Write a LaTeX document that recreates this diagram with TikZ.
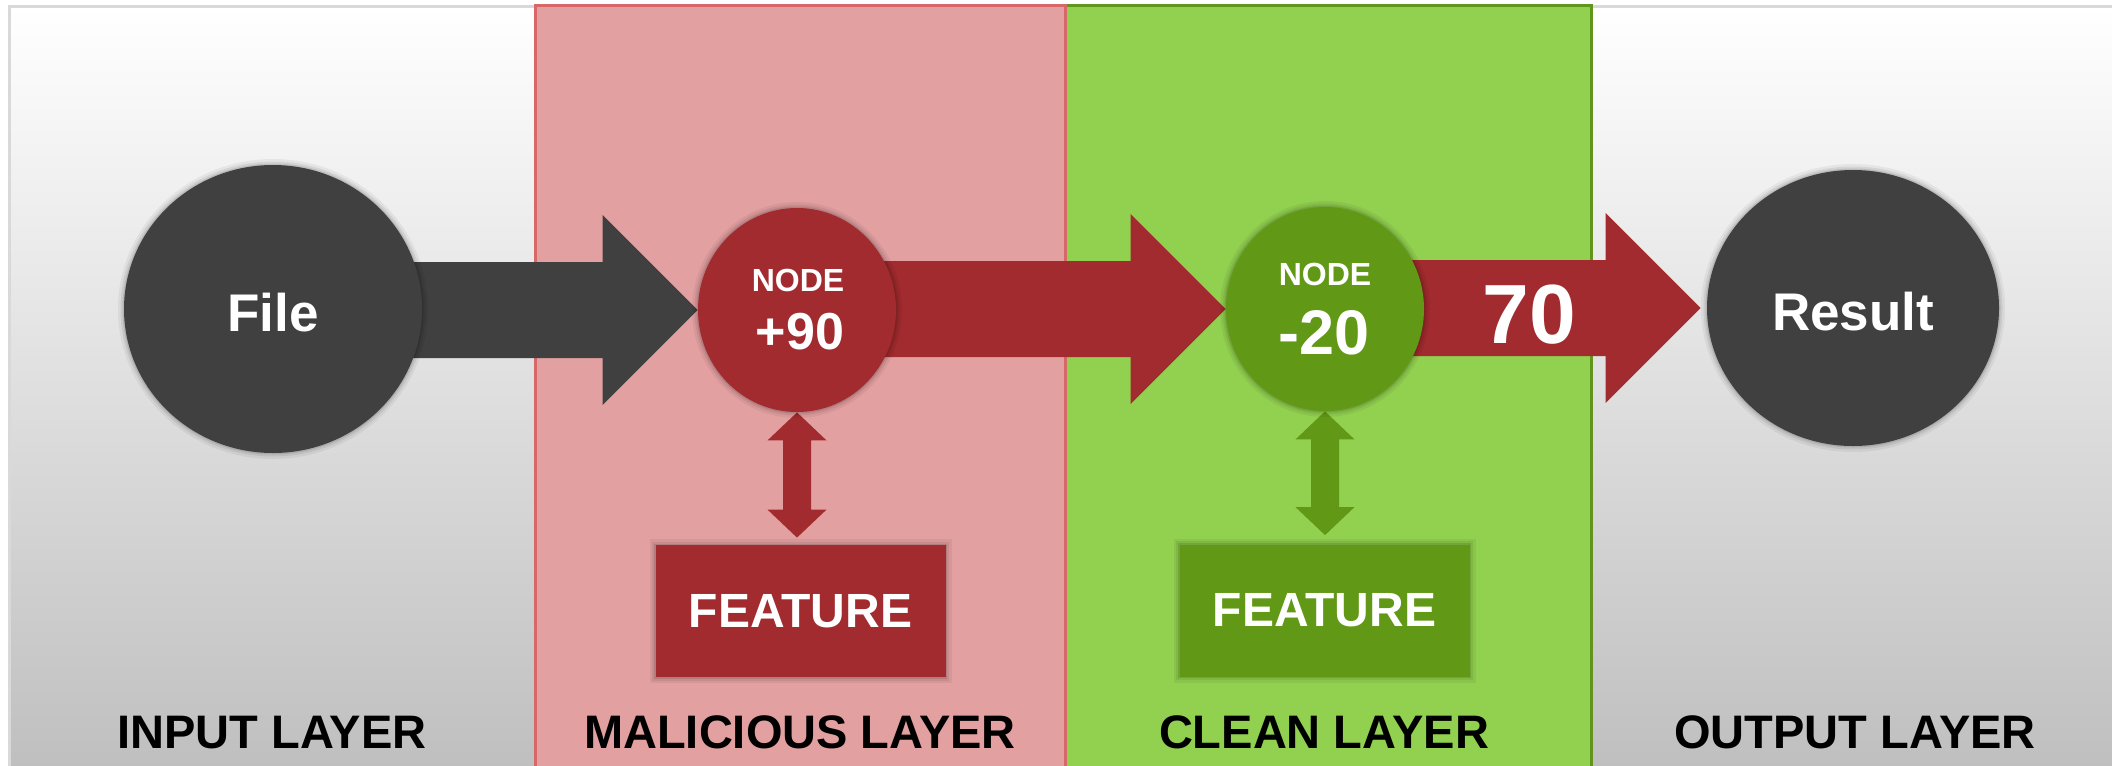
\documentclass[tikz,border=0pt]{standalone}
\usepackage{fontspec}
\setmainfont{Liberation Sans}
\usetikzlibrary{shapes.geometric,calc}

\pgfdeclarelayer{bands}
\pgfdeclarelayer{flows}
\pgfsetlayers{bands,flows,main}

\definecolor{malred}{RGB}{161,43,46}
\definecolor{malband}{RGB}{227,160,161}
\definecolor{maledge}{RGB}{214,104,106}
\definecolor{cleanband}{RGB}{146,208,80}
\definecolor{cleanedge}{RGB}{96,150,28}
\definecolor{cleangreen}{RGB}{97,152,22}
\definecolor{charcoal}{RGB}{64,64,64}
\definecolor{framegray}{RGB}{217,217,217}
\definecolor{shadegray}{RGB}{190,190,190}

% wide block arrow: shaft from the centre of #2 to the tip #3
\newcommand\fatarrow[3]{%
  \fill[#1] ($(#2.center |- #3)+(0,-48)$) -- ($(#3)+(-95,-48)$)
    -- ($(#3)+(-95,-95)$) -- (#3) -- ($(#3)+(-95,95)$)
    -- ($(#3)+(-95,48)$) -- ($(#2.center |- #3)+(0,48)$) -- cycle;}

% vertical two-headed arrow from #2 (top tip) down to #3 (bottom tip)
\newcommand\twowayarrow[3]{%
  \fill[#1] (#2) -- ++(29.5,28) -- ++(-15.5,0)
    -- ($(#2 |- #3)+(14,-28)$) -- ++(15.5,0) -- (#2 |- #3)
    -- ++(-29.5,-28) -- ++(15.5,0) -- ($(#2)+(-14,28)$)
    -- ++(-15.5,0) -- cycle;}

\begin{document}
\begin{tikzpicture}[x=0.5pt,y=-0.5pt,
  soft/.style={preaction={draw=black,draw opacity=0.05,line width=6pt},
      preaction={draw=black,draw opacity=0.07,line width=3.5pt},
      preaction={draw=black,draw opacity=0.10,line width=1.5pt}},
  bubble/.style={ellipse,inner sep=0pt,soft,text=white,
      text height=22.5pt,text depth=0pt,
      font=\bfseries\fontsize{26.5}{30}\selectfont},
  dot/.style={ellipse,inner sep=0pt,soft,minimum width=99pt,minimum height=102pt},
  featbox/.style={rectangle,inner sep=0pt,soft,text=white,
      minimum width=145pt,minimum height=66pt,
      font=\bfseries\fontsize{24}{28}\selectfont},
  caption/.style={anchor=base,inner sep=0pt,text=white,
      font=\bfseries\fontsize{16}{19}\selectfont},
  value/.style={anchor=base,inner sep=0pt,text=white},
  layerlbl/.style={anchor=base,inner sep=0pt,text=black,
      font=\bfseries\fontsize{23.5}{27}\selectfont}]

\useasboundingbox (0,0) rectangle (2112,765);

% layer bands and frame
\begin{pgfonlayer}{bands}
  \shade[top color=white,bottom color=shadegray] (9,7) rectangle (2130,780);
  \draw[framegray,line width=1.5pt] (9,780) -- (9,7) -- (2130,7);
  \fill[cleanband] (1065,6) rectangle (1591,780);
  \draw[cleanedge,line width=1.5pt] (1065,780) -- (1065,6) -- (1591,6) -- (1591,780);
  \fill[malband] (535,6) rectangle (1065,780);
  \draw[maledge,line width=1.5pt] (535,780) -- (535,6) -- (1065,6) -- (1065,780);
\end{pgfonlayer}

% nodes
\node[bubble,fill=charcoal,minimum width=149pt,minimum height=144pt] (file) at (273,309) {File};
\node[dot,fill=malred] (mal) at (797,310) {};
\node[dot,fill=cleangreen] (cln) at (1325,309) {};
\node[bubble,fill=charcoal,minimum width=146pt,minimum height=138pt] (result) at (1853,308) {Result};
\node[featbox,fill=malred] (fmal) at (800.5,611) {FEATURE};
\node[featbox,fill=cleangreen] (fcln) at (1324.5,610.5) {FEATURE};

% texts inside the scoring nodes
\node[caption] (malcap) at (798,291) {NODE};
\node[value,font=\bfseries\fontsize{26}{30}\selectfont] (malval) at (800,349) {+90};
\node[caption] (clncap) at (1325,285) {NODE};
\node[value,font=\bfseries\fontsize{31.5}{36}\selectfont] (clnval) at (1324,354) {-20};

% connectors
\coordinate (restip) at ($(result.west)+(-6,0)$);
\coordinate (fmaltop) at ($(fmal.north)+(0,-7)$);
\coordinate (fclntop) at ($(fcln.north)+(0,-9)$);
\begin{pgfonlayer}{flows}
  \fatarrow{charcoal}{file}{mal.west}
  \fatarrow{malred}{mal}{cln.west}
  \fatarrow{malred}{cln}{restip}
  \twowayarrow{malred}{mal.south}{fmaltop}
  \twowayarrow{cleangreen}{cln.south}{fclntop}
\end{pgfonlayer}

\node[value,font=\bfseries\fontsize{42}{48}\selectfont] (score) at (1529,343) {70};

% layer names
\node[layerlbl] (inlbl) at (272,748) {INPUT LAYER};
\node[layerlbl] (mallbl) at (800,748) {MALICIOUS LAYER};
\node[layerlbl] (clnlbl) at (1324,748) {CLEAN LAYER};
\node[layerlbl] (outlbl) at (1855,748) {OUTPUT LAYER};
\end{tikzpicture}
\end{document}
